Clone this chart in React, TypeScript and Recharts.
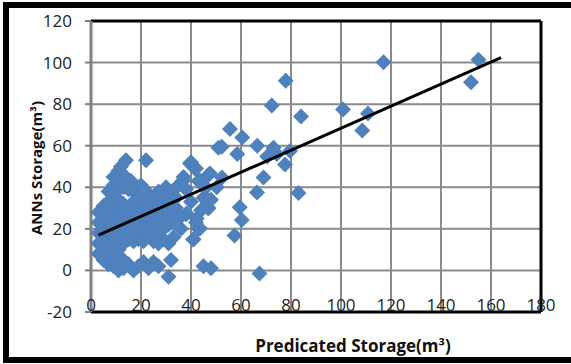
import React from "react";
import {
  CartesianGrid,
  ReferenceLine,
  Scatter,
  ScatterChart,
  XAxis,
  YAxis,
} from "recharts";

// predicted storage (x) vs ANN storage (y)
const storagePairs: [number, number][] = [
  [3, 8], [3, 13], [3, 18], [3, 23], [3, 28],
  [5, 5], [5, 10], [5, 15], [5, 20], [5, 25], [5, 31],
  [7, 3], [7, 8], [7, 13], [7, 18], [7, 23], [7, 28], [7, 33], [7, 38],
  [9, 2], [9, 6], [9, 11], [9, 16], [9, 21], [9, 26], [9, 31], [9, 36], [9, 41], [9, 45],
  [11, 0], [11, 5], [11, 10], [11, 15], [11, 20], [11, 25], [11, 30], [11, 34], [11, 39], [11, 44], [11, 48],
  [13, 1], [13, 5], [13, 13], [13, 18], [13, 23], [13, 28], [13, 32], [13, 40], [13, 46], [14, 53], [12, 50],
  [15, 3], [15, 15], [15, 20], [15, 25], [15, 30], [15, 39], [16, 43],
  [17, 0], [17, 14], [17, 19], [17, 24], [17, 29], [17, 33], [17, 38],
  [19, 2], [19, 15], [19, 20], [19, 25], [19, 30], [19, 35], [20, 41],
  [21, 4], [21, 14], [21, 19], [21, 24], [21, 29], [21, 34], [22, 53],
  [23, 1], [23, 17], [23, 22], [23, 27], [23, 32], [23, 37],
  [25, 4], [25, 14], [25, 20], [25, 25], [25, 30], [25, 35],
  [27, 2], [27, 13], [27, 18], [27, 23], [27, 28], [27, 33], [27, 38],
  [29, 15], [29, 20], [29, 25], [29, 30], [29, 36], [30, 40],
  [31, -3], [32, 5], [31, 13], [31, 22], [31, 28], [31, 33], [32, 38],
  [33, 16], [33, 24], [34, 30], [34, 35], [35, 41],
  [36, 20], [36, 26], [37, 45], [38, 39], [38, 27],
  [40, 33], [40, 52], [41, 15], [42, 49], [42, 23], [43, 20], [43, 43],
  [44, 29], [45, 35], [46, 40], [47, 46], [47, 30], [48, 34], [45, 2], [48, 1],
  [39.6, 51.4], [41.6, 49], [47.6, 46.6], [52.4, 44.7], [50.3, 40], [36.9, 43.3],
  [43.6, 43.3], [45.6, 40], [46.9, 29.8], [47.6, 33.7], [45.6, 35.2], [42.3, 25],
  [43.6, 20.2], [40.9, 14.9], [38.3, 27.4], [51, 59],
  [55.6, 68], [60.5, 64], [52.3, 59.5], [58.5, 56], [66.5, 60], [73, 59],
  [70.5, 54.8], [79.6, 57.5], [77.6, 51], [74.3, 56], [69, 44.7], [66.4, 37.5],
  [83, 37.2], [59.5, 30.4], [60.3, 24.3], [57.4, 16.8], [67.4, -1.5],
  [72.3, 79.3], [77.9, 91.3], [84, 74], [100.8, 77.4], [110.8, 75.5],
  [108.5, 67.3], [117, 100.1], [155, 101.3], [152, 90.5],
];

const trendX = [3, 164];
const trendY = [17, 102.4];

const xTicks = [0, 20, 40, 60, 80, 100, 120, 140, 160, 180];
const yTicks = [-20, 0, 20, 40, 60, 80, 100, 120];

const points = storagePairs.map(([x, y]) => ({ x, y }));
const trend = trendX.map((x, i) => ({ x, y: trendY[i] }));

const font = "'Open Sans', sans-serif";

function Diamond(props: any) {
  const { cx, cy } = props;
  const r = 8;
  return (
    <polygon
      points={`${cx},${cy - r} ${cx + r},${cy} ${cx},${cy + r} ${cx - r},${cy}`}
      fill="#4F81BD"
    />
  );
}

function XTick(props: any) {
  const { x, y, payload } = props;
  return (
    <text x={x} y={y - 9} textAnchor="middle" fontSize={17} fill="#222" fontFamily={font}>
      {payload.value}
    </text>
  );
}

export default function App() {
  return (
    <div
      style={{
        position: "fixed",
        left: 0,
        top: 0,
        width: 571,
        height: 364,
        overflow: "hidden",
        background: "#fff",
        fontFamily: font,
      }}
    >
      <div
        style={{
          position: "absolute",
          left: 3,
          top: 2,
          width: 620,
          height: 361,
          border: "6px solid #000",
          boxSizing: "border-box",
        }}
      />
      <div style={{ position: "absolute", left: 0, top: 0 }}>
        <ScatterChart
          width={571}
          height={364}
          margin={{ top: 21, right: 30, bottom: 22, left: 19 }}
        >
          <CartesianGrid stroke="#8a8a8a" strokeWidth={2} />
          <XAxis
            type="number"
            dataKey="x"
            domain={[0, 180]}
            ticks={xTicks}
            height={30}
            axisLine={false}
            tickLine={false}
            tick={<XTick />}
          />
          <YAxis
            type="number"
            dataKey="y"
            domain={[-20, 120]}
            ticks={yTicks}
            width={72}
            axisLine={{ stroke: "#808080", strokeWidth: 3 }}
            tickLine={{ stroke: "#808080", strokeWidth: 2 }}
            tickSize={6}
            tickMargin={13}
            tick={{ fontSize: 17, fill: "#222", fontFamily: font }}
          />
          <Scatter data={points} shape={<Diamond />} isAnimationActive={false} />
          <Scatter
            data={trend}
            line={{ stroke: "#000", strokeWidth: 3 }}
            shape={() => <g />}
            isAnimationActive={false}
          />
          <ReferenceLine y={120} stroke="#000" strokeWidth={3} />
          <ReferenceLine y={-20} stroke="#000" strokeWidth={3} />
          <ReferenceLine x={180} stroke="#000" strokeWidth={3} />
        </ScatterChart>
      </div>
      <div
        style={{
          position: "absolute",
          left: 353,
          top: 345,
          transform: "translate(-50%, -50%)",
          fontWeight: 700,
          fontSize: 17,
          whiteSpace: "nowrap",
          color: "#111",
        }}
      >
        Predicated Storage(m³)
      </div>
      <div
        style={{
          position: "absolute",
          left: 36,
          top: 168,
          transform: "translate(-50%, -50%) rotate(-90deg)",
          fontWeight: 700,
          fontSize: 15,
          whiteSpace: "nowrap",
          color: "#111",
        }}
      >
        ANNs Storage(m³)
      </div>
    </div>
  );
}
